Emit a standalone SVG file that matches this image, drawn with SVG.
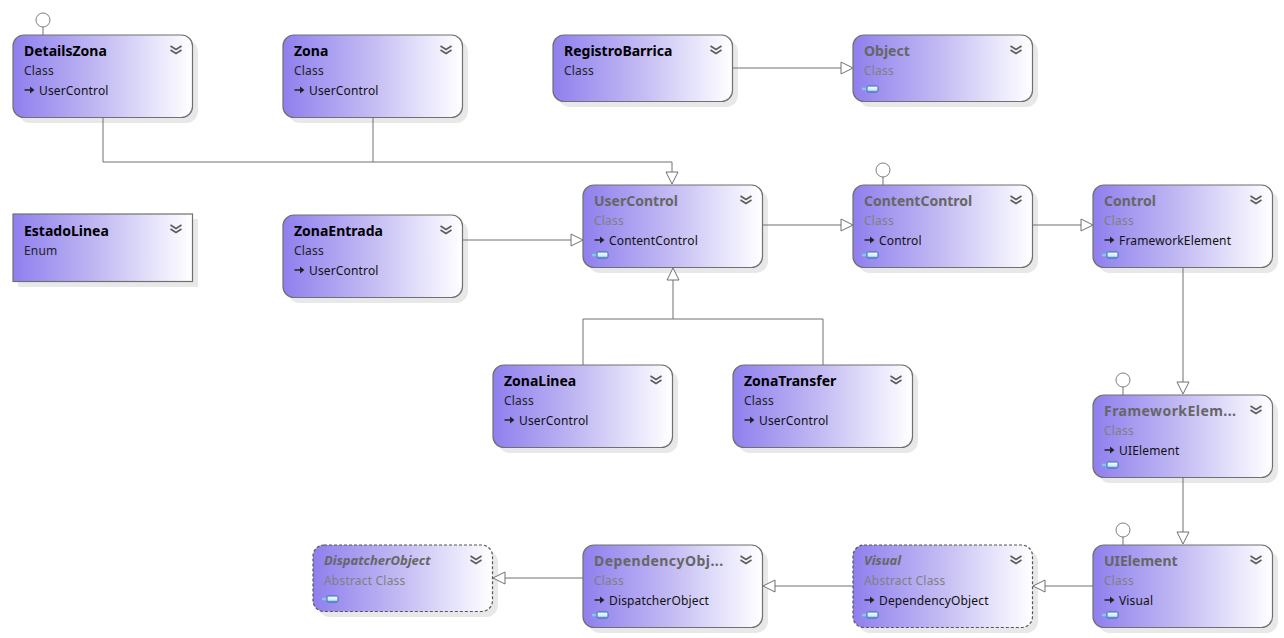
<svg xmlns="http://www.w3.org/2000/svg" width="1284" height="638" viewBox="0 0 1284 638">
<style>
text{font-family:"Noto Sans","Open Sans","Liberation Sans",sans-serif}
.t{font-size:14px;font-weight:700;fill:#000}
.k{font-size:12px;fill:#222;letter-spacing:.2px}
.b{font-size:12px;fill:#111;letter-spacing:.15px}
.g .t{fill:#666}
.g .k{fill:#808080}
.i{font-style:italic;font-size:13px}
.s{letter-spacing:.45px}
.box{fill:url(#grad);stroke:#707070;stroke-width:1.2}
.dash{stroke-dasharray:3 2;stroke:#555}
.sh{fill:#e8e8e8}
.c{fill:none;stroke:#707070;stroke-width:1}
.h{fill:#fff;stroke:#707070;stroke-width:1}
.l{fill:#fff;stroke:#808080;stroke-width:1}
</style>
<defs>
<linearGradient id="grad" x1="0" y1="0" x2="1" y2="0">
<stop offset="0" stop-color="#8f7fee"/>
<stop offset="0.5" stop-color="#c4bcf3"/>
<stop offset="0.75" stop-color="#e2dffa"/>
<stop offset="1" stop-color="#fff"/>
</linearGradient>
<linearGradient id="cube" x1="0" y1="0" x2="0" y2="1">
<stop offset="0" stop-color="#fbfeff"/>
<stop offset="0.6" stop-color="#d3ebf8"/>
<stop offset="1" stop-color="#6fa8d4"/>
</linearGradient>
<g id="chev"><path d="M-5.500 -2 L0 1.500 L5.500 -2 M-5.500 2 L0 5.500 L5.500 2" fill="none" stroke="#5c5c5c" stroke-width="1.600"/></g>
<g id="inh"><path d="M-5.500 0 H0" stroke="#222" stroke-width="1.500"/><path d="M0 -3.500 L4.500 0 L0 3.500 Z" fill="#222"/></g>
<g id="cub"><path d="M-8 0 H-3" stroke="#7cc9e8" stroke-width="2.500"/><rect x="-3" y="-3" width="11" height="6" rx="1.500" fill="url(#cube)" stroke="#2f6ea8" stroke-width="1"/></g>
</defs>

<g id="DetailsZona"><circle class="l" cx="43" cy="20" r="7"/><rect class="sh" x="18" y="40" width="180" height="83" rx="12"/><rect class="box" x="13" y="35" width="179.500" height="82.500" rx="11"/><text class="t" x="24" y="55.500">DetailsZona</text><text class="k" x="24" y="75">Class</text><use href="#inh" x="30" y="90"/><text class="b" x="39" y="95">UserControl</text><use href="#chev" x="176" y="48"/></g>

<g id="Zona"><rect class="sh" x="288" y="40" width="180" height="83" rx="12"/><rect class="box" x="283" y="35" width="179.500" height="82.500" rx="11"/><text class="t" x="294" y="55.500">Zona</text><text class="k" x="294" y="75">Class</text><use href="#inh" x="300" y="90"/><text class="b" x="309" y="95">UserControl</text><use href="#chev" x="446" y="48"/></g>

<g id="RegistroBarrica"><rect class="sh" x="558" y="40" width="180" height="67" rx="12"/><rect class="box" x="553" y="35" width="179.500" height="66.500" rx="11"/><text class="t" x="564" y="55.500">RegistroBarrica</text><text class="k" x="564" y="75">Class</text><use href="#chev" x="716" y="48"/></g>

<g id="Object" class="g"><rect class="sh" x="858" y="40" width="180" height="67" rx="12"/><rect class="box" x="853" y="35" width="179.500" height="66.500" rx="11"/><text class="t" x="864" y="55.500">Object</text><text class="k" x="864" y="75">Class</text><use href="#cub" x="870" y="89"/><use href="#chev" x="1016" y="48"/></g>

<g id="EstadoLinea"><rect class="sh" x="18" y="219" width="180" height="68"/><rect class="box" x="13" y="214" width="179.500" height="67.500"/><text class="t" x="24" y="235.500">EstadoLinea</text><text class="k" x="24" y="255">Enum</text><use href="#chev" x="176" y="227"/></g>

<g id="UserControl" class="g"><rect class="sh" x="588" y="190" width="180" height="83" rx="12"/><rect class="box" x="583" y="185" width="179.500" height="82.500" rx="11"/><text class="t" x="594" y="205.500">UserControl</text><text class="k" x="594" y="225">Class</text><use href="#inh" x="600" y="240"/><text class="b" x="609" y="245">ContentControl</text><use href="#cub" x="600" y="255"/><use href="#chev" x="746" y="198"/></g>

<g id="ContentControl" class="g"><circle class="l" cx="883" cy="170" r="7"/><rect class="sh" x="858" y="190" width="180" height="83" rx="12"/><rect class="box" x="853" y="185" width="179.500" height="82.500" rx="11"/><text class="t" x="864" y="205.500">ContentControl</text><text class="k" x="864" y="225">Class</text><use href="#inh" x="870" y="240"/><text class="b" x="879" y="245">Control</text><use href="#cub" x="870" y="255"/><use href="#chev" x="1016" y="198"/></g>

<g id="Control" class="g"><rect class="sh" x="1098" y="190" width="180" height="83" rx="12"/><rect class="box" x="1093" y="185" width="179.500" height="82.500" rx="11"/><text class="t" x="1104" y="205.500">Control</text><text class="k" x="1104" y="225">Class</text><use href="#inh" x="1110" y="240"/><text class="b" x="1119" y="245">FrameworkElement</text><use href="#cub" x="1110" y="255"/><use href="#chev" x="1256" y="198"/></g>

<g id="ZonaEntrada"><rect class="sh" x="288" y="220" width="180" height="83" rx="12"/><rect class="box" x="283" y="215" width="179.500" height="82.500" rx="11"/><text class="t" x="294" y="235.500">ZonaEntrada</text><text class="k" x="294" y="255">Class</text><use href="#inh" x="300" y="270"/><text class="b" x="309" y="275">UserControl</text><use href="#chev" x="446" y="228"/></g>

<g id="ZonaLinea"><rect class="sh" x="498" y="370" width="180" height="83" rx="12"/><rect class="box" x="493" y="365" width="179.500" height="82.500" rx="11"/><text class="t" x="504" y="385.500">ZonaLinea</text><text class="k" x="504" y="405">Class</text><use href="#inh" x="510" y="420"/><text class="b" x="519" y="425">UserControl</text><use href="#chev" x="656" y="378"/></g>

<g id="ZonaTransfer"><rect class="sh" x="738" y="370" width="180" height="83" rx="12"/><rect class="box" x="733" y="365" width="179.500" height="82.500" rx="11"/><text class="t" x="744" y="385.500">ZonaTransfer</text><text class="k" x="744" y="405">Class</text><use href="#inh" x="750" y="420"/><text class="b" x="759" y="425">UserControl</text><use href="#chev" x="896" y="378"/></g>

<g id="FrameworkElement" class="g"><circle class="l" cx="1123" cy="380" r="7"/><rect class="sh" x="1098" y="400" width="180" height="83" rx="12"/><rect class="box" x="1093" y="395" width="179.500" height="82.500" rx="11"/><text class="t s" x="1104" y="415.500">FrameworkElem...</text><text class="k" x="1104" y="435">Class</text><use href="#inh" x="1110" y="450"/><text class="b" x="1119" y="455">UIElement</text><use href="#cub" x="1110" y="465"/><use href="#chev" x="1256" y="408"/></g>

<g id="UIElement" class="g"><circle class="l" cx="1123" cy="530" r="7"/><rect class="sh" x="1098" y="550" width="180" height="83" rx="12"/><rect class="box" x="1093" y="545" width="179.500" height="82.500" rx="11"/><text class="t" x="1104" y="565.500">UIElement</text><text class="k" x="1104" y="585">Class</text><use href="#inh" x="1110" y="600"/><text class="b" x="1119" y="605">Visual</text><use href="#cub" x="1110" y="615"/><use href="#chev" x="1256" y="558"/></g>

<g id="Visual" class="g"><rect class="sh" x="858" y="550" width="180" height="83" rx="12"/><rect class="box dash" x="853" y="545" width="179.500" height="82.500" rx="11"/><text class="t i" x="864" y="565">Visual</text><text class="k" x="864" y="585">Abstract Class</text><use href="#inh" x="870" y="600"/><text class="b" x="879" y="605">DependencyObject</text><use href="#cub" x="870" y="615"/><use href="#chev" x="1016" y="558"/></g>

<g id="DependencyObject" class="g"><rect class="sh" x="588" y="550" width="180" height="83" rx="12"/><rect class="box" x="583" y="545" width="179.500" height="82.500" rx="11"/><text class="t s" x="594" y="565.500">DependencyObj...</text><text class="k" x="594" y="585">Class</text><use href="#inh" x="600" y="600"/><text class="b" x="609" y="605">DispatcherObject</text><use href="#cub" x="600" y="615"/><use href="#chev" x="746" y="558"/></g>

<g id="DispatcherObject" class="g"><rect class="sh" x="318" y="550" width="180" height="67" rx="12"/><rect class="box dash" x="313" y="545" width="179.500" height="66.500" rx="11"/><text class="t i" x="324" y="565">DispatcherObject</text><text class="k" x="324" y="585">Abstract Class</text><use href="#cub" x="330" y="599"/><use href="#chev" x="476" y="558"/></g>

<g id="connectors">
<path class="c" d="M103 118V162H672V172M373 118V162"/>
<path class="h" d="M666 172H678L672 184Z"/>
<path class="c" d="M733 68H841"/><path class="h" d="M841 62V74L853 68Z"/>
<path class="c" d="M463 240H571"/><path class="h" d="M571 234V246L583 240Z"/>
<path class="c" d="M763 225H841"/><path class="h" d="M841 219V231L853 225Z"/>
<path class="c" d="M1033 225H1081"/><path class="h" d="M1081 219V231L1093 225Z"/>
<path class="c" d="M583 365V319H823V365M673 319V280"/><path class="h" d="M667 280H679L673 268Z"/>
<path class="c" d="M1183 268V382"/><path class="h" d="M1177 382H1189L1183 394Z"/>
<path class="c" d="M1183 478V532"/><path class="h" d="M1177 532H1189L1183 544Z"/>
<path class="c" d="M1093 586H1045"/><path class="h" d="M1045 580V592L1033 586Z"/>
<path class="c" d="M853 586H775"/><path class="h" d="M775 580V592L763 586Z"/>
<path class="c" d="M583 578H505"/><path class="h" d="M505 572V584L493 578Z"/>
<path class="c" d="M43 35V27M883 185V177M1123 395V387M1123 545V537"/>
</g>
</svg>
